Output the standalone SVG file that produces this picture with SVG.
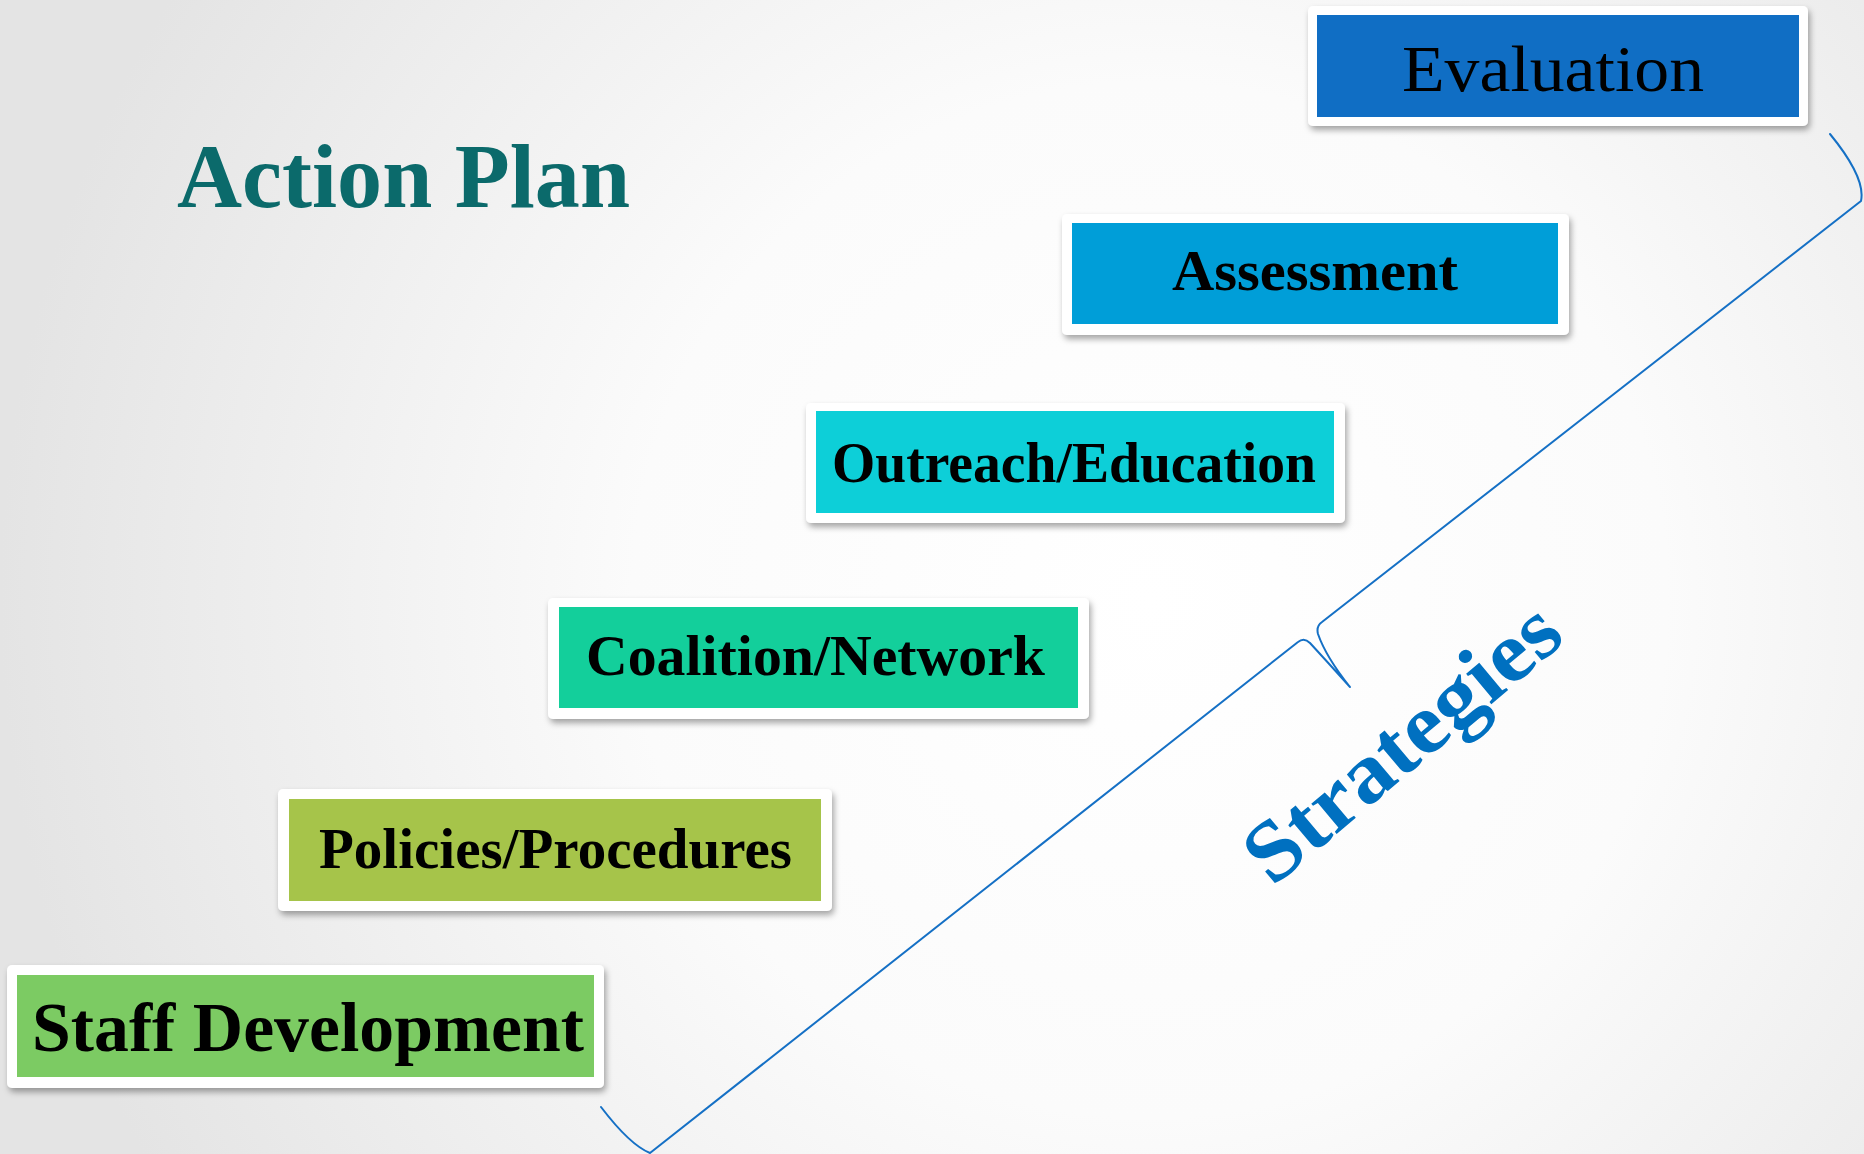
<svg xmlns="http://www.w3.org/2000/svg" width="1864" height="1154" viewBox="0 0 1864 1154">
  <defs>
    <radialGradient id="bg" cx="1150" cy="600" r="1150" gradientUnits="userSpaceOnUse">
      <stop offset="0" stop-color="#ffffff"/>
      <stop offset="0.45" stop-color="#fbfbfb"/>
      <stop offset="1" stop-color="#e4e4e4"/>
    </radialGradient>
    <filter id="shadow" x="-5%" y="-10%" width="112%" height="130%">
      <feDropShadow dx="2" dy="4" stdDeviation="3" flood-color="#000" flood-opacity="0.35"/>
    </filter>
    <style>
      .frame { fill: #ffffff; filter: url(#shadow); }
      .lbl { font-family: "Liberation Serif", "Times New Roman", serif; font-weight: bold; fill: #000; }
      .brace { fill: none; stroke: #1570c5; stroke-width: 2; stroke-linejoin: round; stroke-linecap: round; }
    </style>
  </defs>
  <rect x="0" y="0" width="1864" height="1154" fill="url(#bg)"/>

  <text id="title" x="177" y="207" font-family="'Liberation Serif', 'Times New Roman', serif" font-weight="bold" font-size="90" fill="#0b6a6b" textLength="453" lengthAdjust="spacingAndGlyphs">Action Plan</text>

  <g id="evaluation">
    <rect class="frame" x="1308" y="6" width="500" height="120" rx="5"/>
    <rect x="1317" y="15" width="482" height="102" fill="#106ec4"/>
    <text x="1402" y="91" font-family="'Liberation Serif', 'Times New Roman', serif" font-size="66" fill="#000" textLength="302" lengthAdjust="spacingAndGlyphs">Evaluation</text>
  </g>

  <g id="assessment">
    <rect class="frame" x="1062" y="214" width="507" height="121" rx="5"/>
    <rect x="1072" y="223" width="486" height="101" fill="#009ed8"/>
    <text class="lbl" x="1172" y="290" font-size="57" textLength="286" lengthAdjust="spacingAndGlyphs">Assessment</text>
  </g>

  <g id="outreach">
    <rect class="frame" x="806" y="403" width="539" height="120" rx="5"/>
    <rect x="816" y="411" width="518" height="102" fill="#0dcfd8"/>
    <text class="lbl" x="832" y="482" font-size="57" textLength="484" lengthAdjust="spacingAndGlyphs">Outreach/Education</text>
  </g>

  <g id="coalition">
    <rect class="frame" x="548" y="598" width="541" height="121" rx="5"/>
    <rect x="559" y="607" width="519" height="101" fill="#13cf9b"/>
    <text class="lbl" x="586" y="675" font-size="57" textLength="459" lengthAdjust="spacingAndGlyphs">Coalition/Network</text>
  </g>

  <g id="policies">
    <rect class="frame" x="278" y="789" width="554" height="122" rx="5"/>
    <rect x="289" y="799" width="532" height="102" fill="#a6c44a"/>
    <text class="lbl" x="319" y="868" font-size="57" textLength="473" lengthAdjust="spacingAndGlyphs">Policies/Procedures</text>
  </g>

  <g id="staff">
    <rect class="frame" x="7" y="965" width="597" height="123" rx="5"/>
    <rect x="17" y="975" width="577" height="102" fill="#7ccb63"/>
    <text class="lbl" x="32" y="1051" font-size="70" textLength="552" lengthAdjust="spacingAndGlyphs">Staff Development</text>
  </g>

  <g id="connectors">
    <path class="brace" d="M 601 1107 Q 630 1145 650 1153 L 1298 642 Q 1304 637 1310 643 Q 1332 667 1350 687 Q 1326 657 1318 634 Q 1316 626 1322 622 L 1861 201 Q 1866 178 1830 134"/>
  </g>

  <g id="strategies">
    <text x="1420" y="764" transform="rotate(-40 1420 764)" text-anchor="middle" font-family="'Liberation Serif', 'Times New Roman', serif" font-weight="bold" font-size="86" fill="#0070c0" textLength="385" lengthAdjust="spacingAndGlyphs">Strategies</text>
  </g>
</svg>
